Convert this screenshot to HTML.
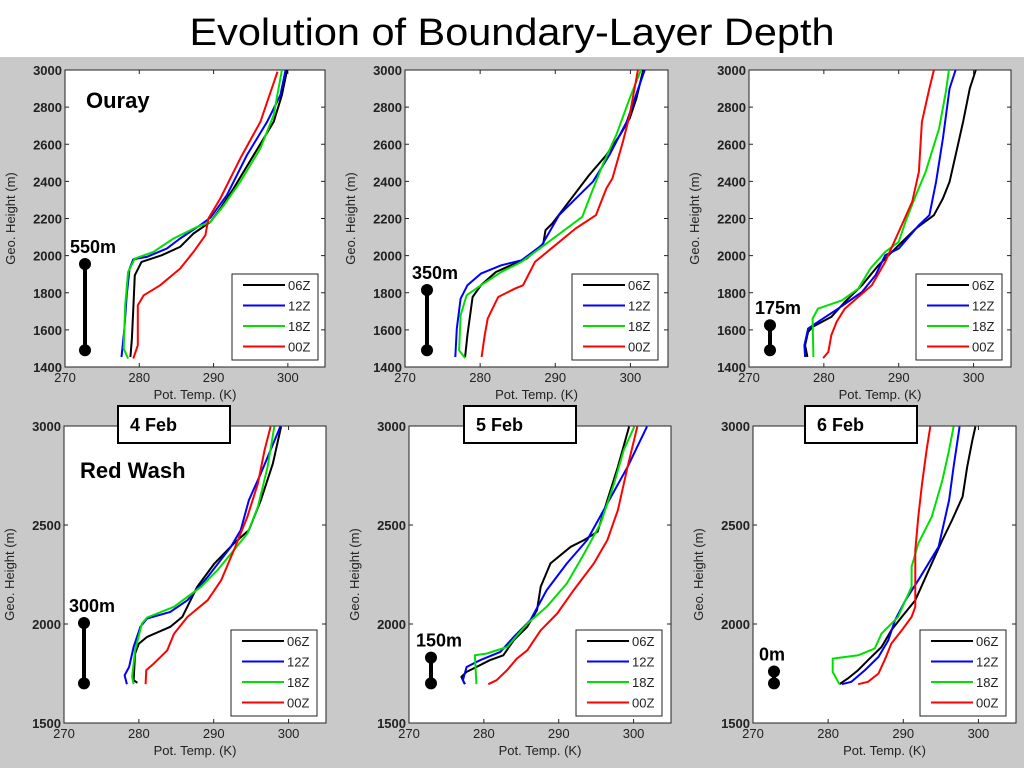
<!DOCTYPE html>
<html><head><meta charset="utf-8">
<style>
html,body{margin:0;padding:0;background:#fff;}
svg{display:block;font-family:"Liberation Sans",Arial,sans-serif;}
</style></head>
<body>
<svg id="chart" width="1024" height="768" viewBox="0 0 1024 768" xmlns="http://www.w3.org/2000/svg">
<rect x="0" y="0" width="1024" height="768" fill="#fff"/>
<rect x="0" y="57" width="1024" height="711" fill="#c9c9c9"/>
<text x="512" y="45" text-anchor="middle" font-size="38" textLength="645" lengthAdjust="spacingAndGlyphs" fill="#000">Evolution of Boundary-Layer Depth</text>
<g id="panels"></g>
</svg>
<script>
const seriesNames = ['06Z','12Z','18Z','00Z'];
const seriesColors = ['#000000','#0000ff','#00e000','#ff0000'];
const xTicks = [270,280,290,300];
const yTicksTop = [1400,1600,1800,2000,2200,2400,2600,2800,3000];
const yTicksBottom = [1500,2000,2500,3000];
const depthLabels = ['550m','350m','175m','300m','150m','0m'];
const dateLabels = ['4 Feb','5 Feb','6 Feb'];

// panel 1 (Ouray, 4 Feb) : [theta K, height m]
const p1_06Z = [[278.8,1454],[279.0,1553],[279.2,1714],[279.4,1894],[280.3,1966],[283.0,2002],[285.5,2047],[287.3,2119],[289.6,2182],[290.9,2254],[292.7,2362],[295.4,2542],[298.1,2721],[299.2,2865],[299.9,3000]];
const p1_12Z = [[277.6,1454],[278.0,1607],[278.3,1786],[278.7,1930],[279.2,1980],[281.0,1993],[283.7,2038],[285.5,2092],[288.2,2164],[289.6,2205],[291.8,2326],[294.5,2542],[297.2,2721],[299.0,2865],[299.7,3000]];
const p1_18Z = [[278.5,1445],[277.9,1499],[278.1,1732],[278.5,1912],[279.4,1984],[281.9,2020],[284.6,2092],[287.8,2155],[289.6,2182],[291.4,2272],[293.6,2398],[296.3,2578],[298.1,2757],[299.2,3000]];
const p1_00Z = [[279.2,1445],[279.8,1517],[279.8,1732],[280.6,1786],[282.8,1840],[285.5,1930],[287.3,2020],[288.9,2110],[289.3,2200],[290.9,2308],[293.6,2524],[296.3,2721],[298.6,2991]];
// panel 2 (Ouray, 5 Feb)
const p2_06Z = [[278.0,1454],[278.3,1571],[279.0,1777],[280.1,1840],[282.1,1912],[284.6,1957],[286.2,1984],[288.4,2065],[288.7,2137],[289.6,2173],[291.8,2290],[294.5,2434],[296.8,2542],[298.6,2649],[299.9,2739],[300.8,2847],[301.7,3000]];
const p2_12Z = [[276.7,1454],[276.9,1607],[277.4,1768],[278.3,1840],[280.1,1903],[282.8,1948],[285.5,1975],[288.2,2056],[290.5,2218],[293.2,2326],[295.0,2398],[297.2,2542],[299.5,2721],[301.9,3000]];
const p2_18Z = [[278.0,1448],[277.2,1490],[277.4,1679],[278.2,1786],[280.1,1840],[282.8,1912],[285.5,1966],[288.2,2047],[290.9,2128],[293.6,2209],[294.7,2326],[296.3,2488],[298.1,2649],[299.9,2847],[301.4,3000]];
const p2_00Z = [[280.2,1454],[280.6,1571],[281.0,1661],[282.4,1777],[284.6,1822],[285.7,1840],[287.3,1966],[290.0,2056],[292.7,2146],[295.4,2218],[296.8,2362],[297.6,2416],[299.0,2613],[299.9,2757],[301.0,3000]];
// panel 3 (Ouray, 6 Feb)
const p3_06Z = [[277.8,1454],[277.5,1517],[277.9,1589],[278.5,1616],[281.0,1670],[282.8,1750],[285.1,1840],[287.3,1948],[290.0,2056],[292.3,2146],[294.7,2218],[295.9,2308],[296.8,2398],[297.7,2560],[298.6,2721],[299.5,2901],[300.3,3000]];
const p3_12Z = [[277.5,1454],[277.4,1517],[277.9,1607],[279.2,1643],[281.9,1714],[285.1,1804],[286.9,1894],[288.2,2002],[290.0,2038],[292.7,2164],[294.1,2218],[295.0,2398],[295.9,2631],[296.8,2901],[297.6,3000]];
const p3_18Z = [[278.6,1454],[278.5,1661],[279.2,1714],[282.4,1759],[284.6,1822],[286.2,1930],[288.2,2020],[290.0,2074],[290.9,2182],[292.3,2326],[293.6,2452],[295.4,2685],[296.3,2883],[296.7,3000]];
const p3_00Z = [[279.9,1448],[280.6,1481],[281.0,1571],[281.7,1643],[282.8,1714],[285.1,1795],[286.4,1840],[288.2,1966],[290.0,2128],[291.8,2290],[292.7,2452],[293.1,2721],[294.1,2901],[294.7,3000]];
// panel 4 (Red Wash, 4 Feb)
const p4_06Z = [[279.8,1703],[279.3,1716],[279.5,1851],[280.0,1901],[281.1,1935],[284.2,1986],[285.8,2036],[287.8,2188],[290.1,2306],[292.7,2407],[294.7,2474],[296.3,2626],[297.9,2811],[299.0,2997]];
const p4_12Z = [[278.4,1696],[278.1,1741],[278.7,1783],[279.3,1884],[280.2,1986],[281.1,2028],[284.2,2061],[286.5,2120],[289.2,2238],[292.3,2390],[293.6,2474],[294.7,2626],[296.3,2761],[297.6,2879],[298.9,2997]];
const p4_18Z = [[279.3,1696],[279.1,1733],[279.5,1867],[280.4,2002],[281.1,2033],[284.7,2087],[288.3,2188],[290.5,2272],[292.7,2373],[294.5,2457],[295.9,2592],[297.2,2794],[298.1,2997]];
const p4_00Z = [[280.9,1696],[281.0,1767],[282.0,1800],[283.8,1867],[284.7,1951],[286.5,2036],[289.2,2120],[291.0,2221],[292.7,2373],[294.5,2542],[295.9,2710],[296.8,2879],[297.6,2997]];
// panel 5 (Red Wash, 5 Feb)
const p5_06Z = [[277.4,1699],[277.0,1733],[277.7,1758],[279.0,1783],[280.8,1817],[282.6,1842],[284.0,1918],[285.8,1986],[287.1,2070],[287.6,2188],[288.9,2306],[291.6,2390],[293.4,2424],[295.2,2466],[296.5,2626],[297.9,2794],[299.4,2997]];
const p5_12Z = [[277.5,1696],[277.2,1716],[277.7,1783],[279.5,1817],[282.2,1859],[284.0,1935],[286.2,2019],[288.4,2171],[291.1,2306],[293.8,2424],[296.5,2609],[299.2,2794],[301.8,2997]];
const p5_18Z = [[279.0,1696],[278.8,1842],[280.4,1851],[283.1,1884],[285.8,2002],[288.4,2087],[291.1,2205],[293.4,2356],[295.6,2508],[297.4,2710],[298.7,2879],[300.1,2997]];
const p5_00Z = [[280.6,1696],[281.7,1716],[283.1,1767],[284.4,1825],[285.8,1867],[287.6,1968],[289.8,2053],[292.0,2171],[294.7,2306],[296.5,2424],[297.9,2575],[299.2,2794],[300.5,2997]];
// panel 6 (Red Wash, 6 Feb)
const p6_06Z = [[281.5,1696],[282.6,1724],[284.0,1767],[285.3,1817],[287.1,1884],[288.4,1968],[289.8,2036],[291.6,2120],[293.8,2306],[295.2,2424],[296.5,2525],[297.9,2643],[298.5,2794],[299.2,2929],[299.6,2997]];
const p6_12Z = [[281.8,1696],[283.1,1708],[284.9,1767],[286.7,1834],[288.0,1918],[288.9,2019],[290.3,2120],[292.0,2221],[294.7,2390],[296.1,2626],[296.7,2794],[297.5,2997]];
const p6_18Z = [[281.5,1696],[280.6,1758],[280.6,1825],[284.0,1842],[286.2,1876],[287.1,1951],[289.3,2036],[291.1,2188],[291.1,2289],[292.0,2407],[293.8,2542],[295.2,2727],[296.1,2879],[296.7,2997]];
const p6_00Z = [[284.0,1696],[285.3,1708],[286.7,1750],[287.6,1825],[288.4,1901],[289.8,1968],[291.1,2036],[291.6,2087],[291.6,2373],[292.0,2542],[292.5,2710],[293.1,2879],[293.6,2997]];

const panelSeries = [
  [p1_06Z,p1_12Z,p1_18Z,p1_00Z],[p2_06Z,p2_12Z,p2_18Z,p2_00Z],[p3_06Z,p3_12Z,p3_18Z,p3_00Z],
  [p4_06Z,p4_12Z,p4_18Z,p4_00Z],[p5_06Z,p5_12Z,p5_18Z,p5_00Z],[p6_06Z,p6_12Z,p6_18Z,p6_00Z]];
// depth bar heights (m): [bottom, top]
const depthBars = [[1490,1955],[1490,1815],[1490,1625],[1700,2005],[1700,1830],[1700,1760]];

const NS='http://www.w3.org/2000/svg';
const root=document.getElementById('panels');
function mk(tag,attrs,parent){const e=document.createElementNS(NS,tag);for(const k in attrs)e.setAttribute(k,attrs[k]);(parent||root).appendChild(e);return e;}

const layout=[
 {l:65,r:325,t:70,b:367,ymin:1400},{l:405,r:668,t:70,b:367,ymin:1400},{l:749,r:1011,t:70,b:367,ymin:1400},
 {l:64,r:326,t:426,b:723,ymin:1500},{l:409,r:671,t:426,b:723,ymin:1500},{l:753,r:1016,t:426,b:723,ymin:1500}];

layout.forEach((P,i)=>{
  const g=mk('g',{});
  
  
  const xmin=270,xmax=305,ymax=3000;
  const X=v=>P.l+(v-xmin)/(xmax-xmin)*(P.r-P.l);
  const Y=v=>P.b-(v-P.ymin)/(ymax-P.ymin)*(P.b-P.t);
  const pa=mk('rect',{x:P.l,y:P.t,width:P.r-P.l,height:P.b-P.t,fill:'#fff',stroke:'#222','stroke-width':1},g);
  
  
  const yt=i<3?yTicksTop:yTicksBottom;
  xTicks.forEach(v=>{
    const x=X(v);
    mk('line',{x1:x,y1:P.b,x2:x,y2:P.b-4,stroke:'#222'},g);
    mk('line',{x1:x,y1:P.t,x2:x,y2:P.t+4,stroke:'#222'},g);
    const t=mk('text',{x:x,y:P.b+15,'text-anchor':'middle','font-size':13,fill:'#222'},g);
    t.textContent=v;
    
    
  });
  yt.forEach(v=>{
    const y=Y(v);
    mk('line',{x1:P.l,y1:y,x2:P.l+4,y2:y,stroke:'#222'},g);
    mk('line',{x1:P.r,y1:y,x2:P.r-4,y2:y,stroke:'#222'},g);
    const t=mk('text',{x:P.l-3,y:y+5,'text-anchor':'end','font-size':13,'font-weight':'bold',fill:'#222'},g);
    t.textContent=v;
    
    
  });
  const xt=mk('text',{x:(P.l+P.r)/2,y:P.b+32,'text-anchor':'middle','font-size':13,fill:'#222'},g);
  xt.textContent='Pot. Temp. (K)';
  
  
  const cy=(P.t+P.b)/2, cx=P.l-50;
  const ytl=mk('text',{x:cx,y:cy,'text-anchor':'middle','font-size':13,fill:'#222',transform:'rotate(-90 '+cx+' '+cy+')'},g);
  ytl.textContent='Geo. Height (m)';
  
  
  // series
  panelSeries[i].forEach((s,k)=>{
    const pts=s.map(p=>X(p[0]).toFixed(1)+','+Y(p[1]).toFixed(1)).join(' ');
    const pl=mk('polyline',{points:pts,fill:'none',stroke:seriesColors[k],'stroke-width':2,'stroke-linejoin':'round'},g);
    
    
  });
  // legend
  const lx=P.l+167, ly=P.b-93;
  const lg=mk('g',{},g);
  
  
  mk('rect',{x:lx,y:ly,width:86,height:86,fill:'#fff',stroke:'#222','stroke-width':1},lg);
  seriesNames.forEach((n,k)=>{
    const yy=ly+11+k*20.5;
    const ln=mk('line',{x1:lx+11,y1:yy,x2:lx+53,y2:yy,stroke:seriesColors[k],'stroke-width':2},lg);
    
    
    const t=mk('text',{x:lx+56,y:yy+5,'font-size':13,fill:'#222'},lg);
    t.textContent=n;
    
    
  });
  // depth bar
  const dx=P.l+20+(i%3==0?0:2)+(i%3==2?-1:0);
  const d=depthBars[i];
  const db=mk('g',{},g);
  
  
  mk('line',{x1:dx,y1:Y(d[0]),x2:dx,y2:Y(d[1]),stroke:'#000','stroke-width':4},db);
  mk('circle',{cx:dx,cy:Y(d[0]),r:6,fill:'#000'},db);
  mk('circle',{cx:dx,cy:Y(d[1]),r:6,fill:'#000'},db);
  const dl=mk('text',{x:dx-15,y:Y(d[1])-11,'font-size':18,'font-weight':'bold',fill:'#000'},g);
  dl.textContent=depthLabels[i];
  
  
});

// station labels
const s1=mk('text',{x:86,y:108,'font-size':22,'font-weight':'bold',fill:'#000'});
s1.textContent='Ouray';


const s2=mk('text',{x:80,y:478,'font-size':22,'font-weight':'bold',fill:'#000'});
s2.textContent='Red Wash';



// date boxes
const dateBoxX=[118,464,805];
dateLabels.forEach((lab,k)=>{
  const g=mk('g',{});
  
  
  mk('rect',{x:dateBoxX[k],y:406,width:112,height:37,fill:'#fff',stroke:'#000','stroke-width':2},g);
  const t=mk('text',{x:dateBoxX[k]+12,y:431,'font-size':18,'font-weight':'bold',fill:'#000'},g);
  t.textContent=lab;
  
  
});
</script>
</body></html>
